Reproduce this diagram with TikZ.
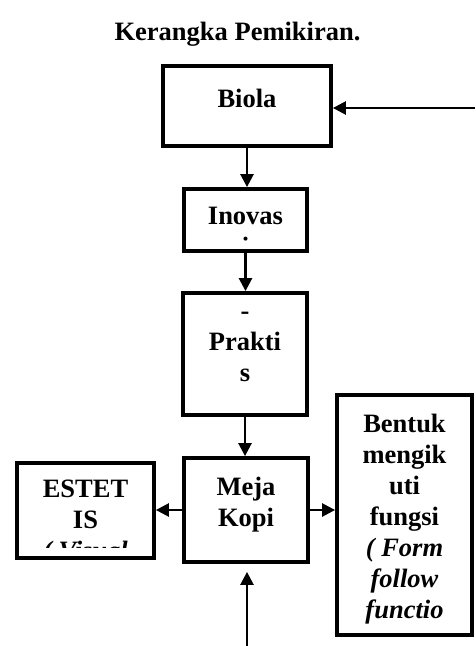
\documentclass[tikz,border=0pt]{standalone}
\usepackage{fontspec}
\setmainfont{Liberation Serif}
\usetikzlibrary{arrows.meta, positioning}
\tikzset{
	caja/.style={draw, rectangle, line width=3.8pt, inner sep=0pt},
	texto/.style={font=\fontsize{26.5}{31}\selectfont\bfseries, align=center, inner sep=0pt, anchor=north, execute at begin node=\strut},
	flecha/.style={-{Triangle[length=13pt, width=13pt]}, line width=2.5pt}
}
\begin{document}
\begin{tikzpicture}[x=1pt, y=-1pt]
				\useasboundingbox (0,0) rectangle (475,646);
				% Titulo
				\node[texto] (titulo) at (237.5,18.5) {Kerangka Pemikiran.};
				% Cajas
				\node[caja, minimum width=168pt, minimum height=80pt] (biola) at (247,106) {};
				\node[caja, minimum width=123pt, minimum height=62pt] (inovasi) at (245.5,220) {};
				\node[caja, minimum width=124pt, minimum height=122pt] (praktis) at (245,354) {};
				\node[caja, minimum width=124pt, minimum height=104pt] (meja) at (246,510) {};
				\node[caja, minimum width=137pt, minimum height=95pt] (estetis) at (85.5,510.5) {};
				\node[caja, minimum width=135pt, minimum height=240pt] (bentuk) at (404.5,515) {};
				% Textos
				\node[texto] (tbiola) at ([yshift=-21.5pt]biola.north) {Biola};
				\begin{scope}
					\clip (inovasi.north west) rectangle ([yshift=11pt]inovasi.south east);
					\node[texto] (tinovasi) at ([yshift=-19.5pt]inovasi.north) {Inovas\\i};
				\end{scope}
				\node[texto] (tpraktis) at ([yshift=-20.5pt]praktis.north) {-\\Prakti\\s};
				\node[texto] (tmeja) at ([yshift=-20.5pt]meja.north) {Meja\\Kopi};
				\begin{scope}
					\clip (estetis.north west) rectangle ([yshift=12pt]estetis.south east);
					\node[texto] (testetis) at ([yshift=-18.5pt]estetis.north) {ESTET\\IS\\\textit{( Visual}};
				\end{scope}
				\node[texto] (tbentuk) at ([yshift=-20.5pt]bentuk.north) {Bentuk\\mengik\\uti\\fungsi\\\textit{( Form}\\\textit{follow}\\\textit{functio}};
				% Flechas
				\coordinate (entrada) at (475,108);
				\coordinate (abajo) at (247,646);
				\draw[flecha] (entrada) -- (entrada -| biola.east);
				\draw[flecha] (biola.south) -- (biola.south |- inovasi.north);
				\draw[flecha] (inovasi.south) -- (inovasi.south |- praktis.north);
				\draw[flecha] (praktis.south) -- (praktis.south |- meja.north);
				\draw[flecha] (meja.west) -- (meja.west -| estetis.east);
				\draw[flecha] (meja.east) -- (meja.east -| bentuk.west);
				\draw[flecha, shorten >=8pt] (abajo) -- (abajo |- meja.south);
			\end{tikzpicture}
\end{document}
